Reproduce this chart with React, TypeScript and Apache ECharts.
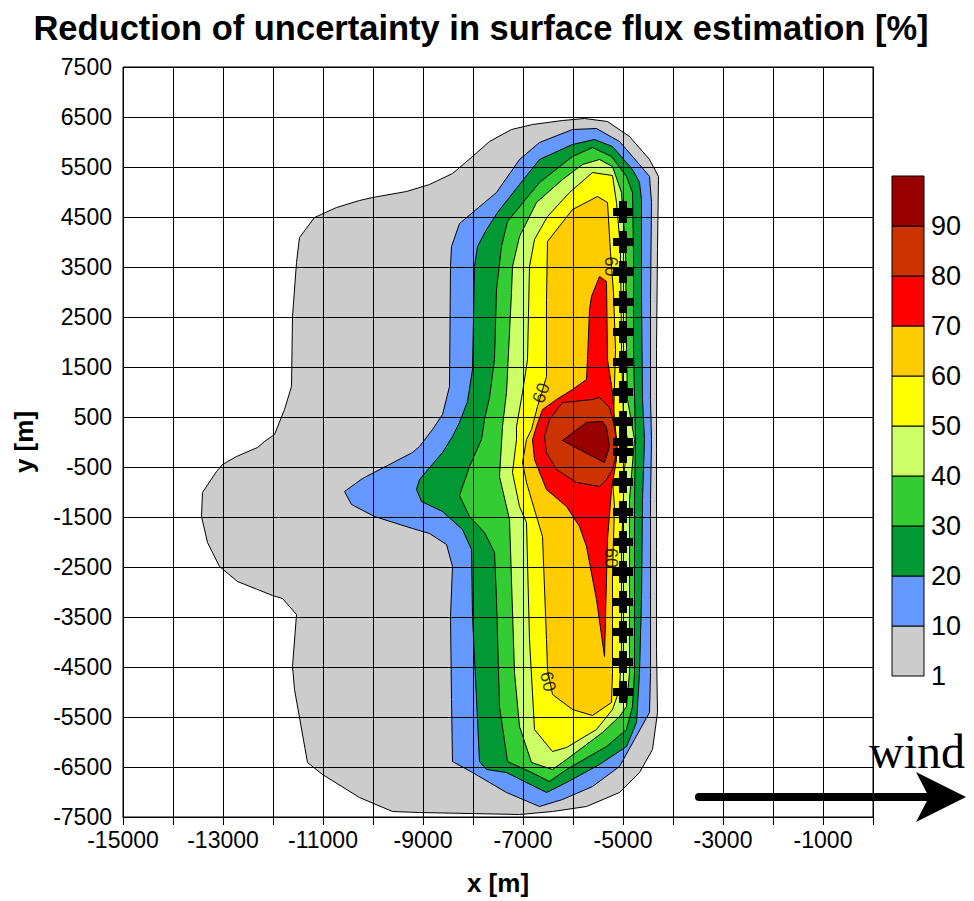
import React, { useEffect, useRef } from 'react';
import * as echarts from 'echarts';

// ---- data ----
const levelLabels = ['1', '10', '20', '30', '40', '50', '60', '70', '80', '90'];
const levelColors = ['#CCCCCC', '#6699FF', '#009933', '#33CC33', '#CCFF66', '#FFFF00', '#FFCC00', '#FF0000', '#CC3300', '#990000'];

const region1 = [[-5770,6470],[-5310,6410],[-4870,6110],[-4470,5650],[-4290,5310],[-4310,3850],[-4330,1850],[-4330,-150],[-4330,-2150],[-4330,-4150],[-4310,-5410],[-4410,-6150],[-4670,-6610],[-5070,-7010],[-5730,-7290],[-6410,-7390],[-7070,-7450],[-9070,-7410],[-9610,-7390],[-10270,-7110],[-11010,-6650],[-11310,-6410],[-11570,-4950],[-11610,-4490],[-11530,-3450],[-11810,-3130],[-12010,-3070],[-12710,-2790],[-13070,-2490],[-13310,-2010],[-13430,-1490],[-13410,-1010],[-13130,-590],[-13010,-450],[-12730,-290],[-12310,-110],[-12170,10],[-11970,150],[-11770,650],[-11630,1110],[-11610,2510],[-11530,3590],[-11470,4090],[-11170,4490],[-10730,4690],[-10270,4830],[-10010,4890],[-9330,5010],[-8870,5150],[-8410,5370],[-8010,5710],[-7670,6010],[-7230,6250],[-6810,6350],[-6210,6430]];
const region10 = [[-6010,6250],[-5530,6270],[-5070,6010],[-4670,5550],[-4470,5310],[-4430,4790],[-4450,2850],[-4450,850],[-4430,50],[-4450,-1150],[-4450,-3150],[-4450,-4610],[-4470,-5410],[-4770,-5950],[-5070,-6490],[-5610,-6890],[-6210,-7150],[-6670,-7290],[-7330,-7010],[-8010,-6610],[-8410,-6390],[-8430,-5150],[-8450,-3490],[-8410,-2490],[-8530,-2050],[-8870,-1830],[-9210,-1730],[-9970,-1490],[-10430,-1250],[-10570,-990],[-10210,-730],[-9210,-210],[-9070,-90],[-8810,250],[-8610,550],[-8470,1110],[-8450,3510],[-8430,3910],[-8270,4370],[-7530,4990],[-7070,5650],[-6670,5990]];
const region20 = [[-5570,6050],[-5210,5910],[-4810,5450],[-4670,5190],[-4630,4850],[-4630,2850],[-4610,850],[-4570,50],[-4610,-1150],[-4630,-3150],[-4670,-4610],[-4730,-5610],[-4930,-6090],[-5470,-6450],[-6130,-6810],[-6530,-7010],[-7330,-6610],[-7730,-6550],[-7870,-6390],[-8010,-3490],[-8030,-2150],[-8210,-1750],[-8610,-1390],[-9030,-1190],[-9130,-950],[-9070,-750],[-8610,-210],[-8410,110],[-8270,390],[-8110,810],[-8010,1450],[-7970,3510],[-7910,3910],[-7730,4250],[-7510,4590],[-7070,5150],[-6670,5650],[-6010,5950]];
const region30 = [[-5610,5890],[-5230,5710],[-4930,5310],[-4810,4990],[-4790,3850],[-4790,1850],[-4750,50],[-4770,-1150],[-4770,-3150],[-4770,-4610],[-4810,-5290],[-4930,-5750],[-5330,-6090],[-6130,-6550],[-6470,-6790],[-6870,-6590],[-7310,-6390],[-7470,-5290],[-7530,-3150],[-7570,-2210],[-7770,-1810],[-8070,-1490],[-8270,-1070],[-8070,-490],[-7830,50],[-7770,450],[-7670,890],[-7570,1650],[-7530,3050],[-7430,3910],[-7310,4410],[-6670,5190],[-6010,5710]];
const region40 = [[-5470,5650],[-5210,5510],[-5030,4990],[-4950,3850],[-4930,1850],[-4910,850],[-4770,50],[-4870,-1150],[-4870,-3150],[-4870,-4610],[-4930,-5290],[-5070,-5490],[-5410,-5810],[-6130,-6350],[-6410,-6550],[-6830,-6410],[-7070,-5690],[-7170,-4610],[-7270,-1550],[-7470,-690],[-7410,310],[-7330,990],[-7230,2990],[-7210,3510],[-7070,4110],[-6730,4790],[-6210,5250],[-5810,5550]];
const region50 = [[-5610,5390],[-5210,5330],[-5130,4790],[-5050,3850],[-5030,1850],[-4990,450],[-4910,50],[-4970,-550],[-5030,-2150],[-5030,-4150],[-5070,-4950],[-5210,-5350],[-5530,-5750],[-6130,-6110],[-6410,-6190],[-6770,-5750],[-6870,-3950],[-6930,-1610],[-7070,-1290],[-7210,-610],[-7130,50],[-7130,310],[-7010,990],[-6910,1650],[-6870,3510],[-6770,4050],[-6510,4510],[-6070,4990]];
const region60 = [[-5510,4910],[-5310,4790],[-5250,3790],[-5190,2990],[-5150,1850],[-5190,450],[-5270,50],[-5170,-1290],[-5210,-2610],[-5210,-4610],[-5230,-5210],[-5610,-5470],[-6010,-5350],[-6410,-5050],[-6510,-4550],[-6530,-3950],[-6610,-1890],[-6730,-1490],[-6930,-810],[-7010,-410],[-6930,50],[-6830,250],[-6710,710],[-6530,1310],[-6530,2850],[-6510,4010],[-6010,4650]];
const region70 = [[-5470,3310],[-5330,3210],[-5310,1650],[-5210,990],[-5170,450],[-5130,50],[-5130,-350],[-5230,-950],[-5310,-1950],[-5370,-4290],[-5530,-3150],[-5730,-2090],[-5870,-1690],[-6130,-1290],[-6530,-950],[-6770,-350],[-6810,50],[-6730,310],[-6610,650],[-6330,850],[-6010,1050],[-5730,1250],[-5710,1650],[-5670,2650],[-5630,2910]];
const region80 = [[-5610,850],[-5470,890],[-5270,690],[-5170,310],[-5110,-150],[-5210,-550],[-5330,-750],[-5470,-890],[-5930,-810],[-6330,-550],[-6530,-210],[-6570,110],[-6470,450],[-6210,790]];
const region90 = [[-6210,30],[-5730,390],[-5410,410],[-5330,290],[-5270,-90],[-5370,-410],[-5870,-150]];
const regions = [region1, region10, region20, region30, region40, region50, region60, region70, region80, region90];

const receptorX = -5000;
const receptorY = [4600, 4000, 3400, 2800, 2200, 1600, 1000, 400, 0, -200, -800, -1400, -2000, -2600, -3200, -3800, -4400, -5000];

const contourLabelText = '60';
const contourLabelX = [-5240, -6640, -5240, -6500];
const contourLabelY = [3510, 980, -2320, -4790];
const contourLabelRotate = [-90, 70, -90, -78];

const xMin = -15000, xMax = 0, yMin = -7500, yMax = 7500, step = 1000;

const FONT = '"Liberation Sans", Arial, Helvetica, sans-serif';

export default function App() {
  const ref = useRef<HTMLDivElement>(null);
  useEffect(() => {
    if (!ref.current) return;
    const chart = echarts.init(ref.current, undefined, { renderer: 'svg' });

    const legendX = 892, legendBottom = 676, cellH = 50, cellW = 32;
    const legendGraphics: any[] = [];
    levelColors.forEach((c, i) => {
      legendGraphics.push({
        type: 'rect',
        shape: { x: legendX, y: legendBottom - (i + 1) * cellH, width: cellW, height: cellH },
        style: { fill: c, stroke: '#000', lineWidth: 1 },
        z: 10,
      });
    });
    levelLabels.forEach((l, i) => {
      legendGraphics.push({
        type: 'text',
        x: 931,
        y: legendBottom - i * cellH,
        style: { text: l, fontSize: 27, fontFamily: FONT, fill: '#000', textAlign: 'left', textVerticalAlign: 'middle', align: 'left', verticalAlign: 'middle' },
        z: 10,
      });
    });

    const option: any = {
      animation: false,
      backgroundColor: '#fff',
      grid: { left: 123, top: 67, width: 750, height: 750, show: true, borderColor: '#000', borderWidth: 1, backgroundColor: 'transparent' },
      xAxis: {
        type: 'value', min: xMin, max: xMax, interval: step, z: 3,
        axisLine: { show: true, lineStyle: { color: '#000', width: 1 } },
        axisTick: { show: true, length: 8, lineStyle: { color: '#000' } },
        axisLabel: {
          margin: 11, color: '#000', fontSize: 23, fontFamily: FONT,
          formatter: (v: number) => ((v - xMin) % (2 * step) === 0 && v !== xMax ? String(v) : ''),
        },
        splitLine: { show: true, lineStyle: { color: '#000', width: 1 } },
      },
      yAxis: [
        {
          type: 'value', min: 0, max: yMax - yMin, interval: step, z: 3,
          axisLine: { show: true, lineStyle: { color: '#000', width: 1 } },
          axisTick: { show: true, length: 10, lineStyle: { color: '#000' } },
          axisLabel: { margin: 11, color: '#000', fontSize: 23, fontFamily: FONT, formatter: (v: number) => String(v + yMin) },
          splitLine: { show: true, lineStyle: { color: '#000', width: 1 } },
        },
        { type: 'value', min: yMin, max: yMax, show: false, splitLine: { show: false } },
      ],
      series: [
        {
          type: 'custom',
          yAxisIndex: 1,
          z: 1,
          data: regions.map((r) => r[0]),
          renderItem: (params: any, api: any) => {
            const poly = regions[params.dataIndex];
            const pts = poly.map((p) => api.coord(p));
            return {
              type: 'polygon',
              shape: { points: pts },
              style: { fill: levelColors[params.dataIndex], stroke: '#000', lineWidth: 1 },
            };
          },
        },
        {
          type: 'custom',
          yAxisIndex: 1,
          z: 6,
          data: receptorY.map((y) => [receptorX, y]),
          renderItem: (params: any, api: any) => {
            const c = api.coord([api.value(0), api.value(1)]);
            return {
              type: 'group',
              children: [
                { type: 'rect', shape: { x: c[0] - 10, y: c[1] - 4, width: 20, height: 8 }, style: { fill: '#000' } },
                { type: 'rect', shape: { x: c[0] - 4, y: c[1] - 11, width: 8, height: 22 }, style: { fill: '#000' } },
              ],
            };
          },
        },
        {
          type: 'scatter',
          yAxisIndex: 1,
          z: 6,
          symbolSize: 1,
          itemStyle: { color: 'rgba(0,0,0,0)' },
          label: { show: true, position: 'inside', formatter: contourLabelText, fontSize: 18, color: '#000', fontFamily: FONT },
          data: contourLabelX.map((x, i) => ({ value: [x, contourLabelY[i]], label: { rotate: contourLabelRotate[i] } })),
        },
      ],
      graphic: [
        {
          type: 'text', x: 481, y: 28, z: 10,
          style: { text: 'Reduction of uncertainty in surface flux estimation [%]', fontSize: 34.5, fontWeight: 'bold', fontFamily: FONT, fill: '#000', textAlign: 'center', textVerticalAlign: 'middle', align: 'center', verticalAlign: 'middle' },
        },
        {
          type: 'text', x: 24, y: 442, rotation: Math.PI / 2, z: 10,
          style: { text: 'y [m]', fontSize: 26, fontWeight: 'bold', fontFamily: FONT, fill: '#000', textAlign: 'center', textVerticalAlign: 'middle', align: 'center', verticalAlign: 'middle' },
        },
        {
          type: 'text', x: 498, y: 883, z: 10,
          style: { text: 'x [m]', fontSize: 26, fontWeight: 'bold', fontFamily: FONT, fill: '#000', textAlign: 'center', textVerticalAlign: 'middle', align: 'center', verticalAlign: 'middle' },
        },
        ...legendGraphics,
        {
          type: 'text', x: 869, y: 775, z: 10,
          style: { text: 'wind', fontSize: 48, fontFamily: '"Liberation Serif", "Times New Roman", serif', fill: '#000', textAlign: 'left', textVerticalAlign: 'bottom', align: 'left', verticalAlign: 'bottom' },
        },
        {
          type: 'line', z: 10,
          shape: { x1: 699, y1: 797, x2: 935, y2: 797 },
          style: { stroke: '#000', lineWidth: 8, lineCap: 'round' },
        },
        {
          type: 'polygon', z: 10,
          shape: { points: [[966, 797], [916, 772], [929, 797], [916, 822]] },
          style: { fill: '#000' },
        },
      ],
    };
    chart.setOption(option);
    return () => chart.dispose();
  }, []);
  return <div ref={ref} style={{ position: 'fixed', left: 0, top: 0, width: 974, height: 901, background: '#fff' }} />;
}
